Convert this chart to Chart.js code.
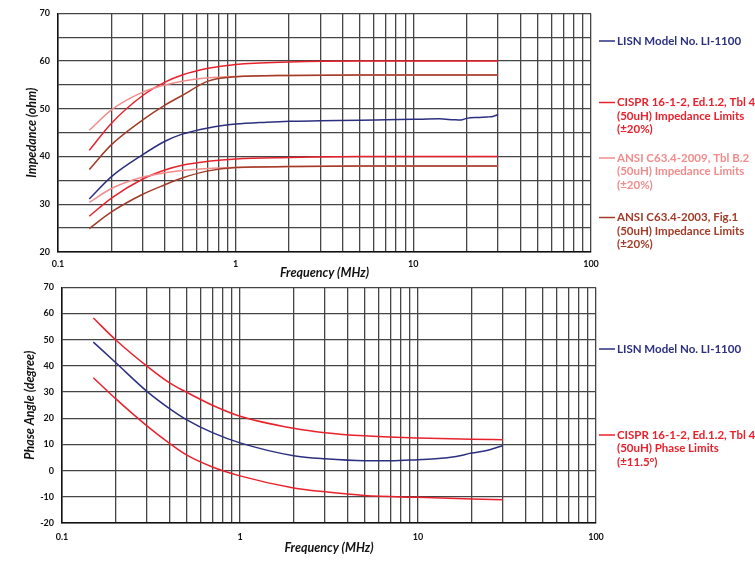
<!DOCTYPE html>
<html>
<head>
<meta charset="utf-8">
<script src="https://cdn.jsdelivr.net/npm/chart.js@4.4.0/dist/chart.umd.min.js"></script>
<style>
  body { margin: 0; background: #fff; }
  #wrap { position: relative; width: 755px; height: 562px; }
  #wrap canvas { position: absolute; left: 0; }
</style>
</head>
<body>
<div id="wrap">
  <canvas id="impedance" width="755" height="282" style="top:0px"></canvas>
  <canvas id="phase" width="755" height="288" style="top:274px"></canvas>
</div>
<script>
// x grid (log decades) and which of them get a label
const freqGrid = [0.1, 0.2, 0.3, 0.4, 0.5, 0.6, 0.7, 0.8, 0.9,
                  1, 2, 3, 4, 5, 6, 7, 8, 9,
                  10, 20, 30, 40, 50, 60, 70, 80, 90, 100];
const freqLabels = [0.1, 1, 10, 100];

// --- impedance (top) ---
const freqLimits = [0.15, 0.2, 0.3, 0.4, 0.5, 0.7, 1, 2, 5, 10, 20, 30];
const cisprUpper  = [41.3, 47.0, 52.8, 55.6, 57.1, 58.5, 59.3, 59.8, 60.0, 60.0, 60.0, 60.0];
const cisprLower  = [27.5, 31.3, 35.3, 37.2, 38.2, 39.0, 39.5, 39.8, 40.0, 40.0, 40.0, 40.0];
const ansi09Upper = [45.5, 49.8, 53.5, 55.0, 55.8, 56.5, 56.8, 57.0, 57.1, 57.1, 57.1, 57.1];
const ansi09Lower = [30.4, 33.3, 35.7, 36.6, 37.1, 37.5, 37.7, 37.9, 38.0, 38.0, 38.0, 38.0];
const ansi03Upper = [37.3, 42.5, 47.7, 50.8, 52.8, 55.8, 56.7, 57.0, 57.1, 57.1, 57.1, 57.1];
const ansi03Lower = [24.9, 28.4, 32.1, 34.1, 35.5, 37.0, 37.7, 37.9, 38.0, 38.0, 38.0, 38.0];

const freqLisn = [0.15, 0.2, 0.3, 0.4, 0.5, 0.7, 1, 1.5, 2, 3, 5, 7, 10, 14, 17, 18.5, 20, 23, 26, 28, 30];
const lisnZ    = [31.1, 35.8, 40.4, 43.2, 44.7, 46.0, 46.8, 47.2, 47.4, 47.5, 47.6, 47.7, 47.8, 47.9, 47.7, 47.65, 48.0, 48.2, 48.3, 48.4, 48.8];

// --- phase (bottom) ---
const freqPhaseLim = [0.15, 0.2, 0.3, 0.4, 0.5, 0.7, 1, 2, 3, 5, 10, 20, 30];
const phaseUpper   = [58.3, 50.0, 39.9, 33.6, 30.0, 25.0, 20.8, 16.2, 14.5, 13.3, 12.5, 12.0, 11.8];
const phaseLower   = [35.5, 27.5, 17.1, 10.5, 6.0, 1.4, -2.0, -6.6, -8.1, -9.5, -10.2, -10.8, -11.1];
const freqPhaseLisn = [0.15, 0.2, 0.3, 0.4, 0.5, 0.7, 1, 2, 3, 5, 7, 10, 13, 16, 20, 25, 30];
const lisnPhase     = [49.1, 41.3, 30.3, 23.8, 19.5, 14.5, 10.6, 5.7, 4.5, 3.8, 3.8, 4.2, 4.6, 5.3, 6.7, 7.9, 9.6];

// legend labels
const lisnLabel   = ['LISN Model No. LI-1100'];
const cisprZLabel = ['CISPR 16-1-2, Ed.1.2, Tbl 4', '(50uH) Impedance Limits', '(\u00b120%)'];
const ansi09Label = ['ANSI C63.4-2009, Tbl B.2', '(50uH) Impedance Limits', '(\u00b120%)'];
const ansi03Label = ['ANSI C63.4-2003, Fig.1', '(50uH) Impedance Limits', '(\u00b120%)'];
const cisprPLabel = ['CISPR 16-1-2, Ed.1.2, Tbl 4', '(50uH) Phase Limits', '(\u00b111.5\u00b0)'];

const NAVY = '#2c2f80';
const RED = '#e8222c';
const PINK = '#f28c8c';
const BROWN = '#a03c28';

function pts(xs, ys) { return xs.map((x, i) => ({ x: x, y: ys[i] })); }

function line(data, color) {
  return { data: data, borderColor: color, borderWidth: 1.5, pointRadius: 0,
           cubicInterpolationMode: 'monotone', fill: false };
}

const sideLegend = {
  id: 'sideLegend',
  afterDraw(chart, args, opts) {
    const ctx = chart.ctx;
    ctx.save();
    ctx.font = 'bold 11.5px Lato';
    ctx.textBaseline = 'middle';
    opts.items.forEach(it => {
      ctx.strokeStyle = it.color;
      ctx.lineWidth = 1.5;
      ctx.beginPath();
      ctx.moveTo(opts.x, it.y);
      ctx.lineTo(opts.x + 16, it.y);
      ctx.stroke();
      ctx.fillStyle = it.color;
      it.lines.forEach((t, i) => ctx.fillText(t, opts.x + 18, it.y + i * 13.5));
    });
    ctx.restore();
  }
};

const tickFont = { family: 'Lato', size: 9, weight: 'bold' };
const titleFont = { family: 'Lato', size: 12.5, weight: 'bold', style: 'italic' };
const gridStyle = { color: '#454545', lineWidth: 1.3, drawTicks: false };

function options(p) {
  return {
    responsive: false,
    animation: false,
    layout: { padding: p.padding },
    plugins: {
      legend: { display: false },
      tooltip: { enabled: false },
      sideLegend: { x: 599, items: p.legend }
    },
    scales: {
      x: {
        type: 'logarithmic', min: 0.1, max: 100,
        afterBuildTicks: s => { s.ticks = freqGrid.map(v => ({ value: v })); },
        afterFit: s => { s.height = p.xHeight; },
        grid: gridStyle,
        border: { color: '#111', width: 1.5 },
        ticks: { autoSkip: false, maxRotation: 0, padding: p.xTickPad, font: tickFont, color: '#111',
                 callback: v => freqLabels.includes(v) ? String(v) : '' },
        title: { display: true, text: 'Frequency (MHz)', font: titleFont, color: '#111',
                 padding: { top: 0, bottom: p.xTitlePad } }
      },
      y: {
        min: p.yMin, max: p.yMax,
        afterFit: s => { s.width = p.yWidth; },
        grid: gridStyle,
        border: { color: '#111', width: 1.5 },
        ticks: { stepSize: p.yStep, padding: 8, font: tickFont, color: '#111',
                 callback: v => v % 10 === 0 ? String(v) : '' },
        title: { display: true, text: p.yTitle, font: titleFont, color: '#111',
                 padding: { top: 0, bottom: 0 } }
      }
    }
  };
}

new Chart(document.getElementById('impedance'), {
  type: 'line',
  data: {
    datasets: [
      line(pts(freqLimits, ansi03Upper), BROWN),
      line(pts(freqLimits, ansi03Lower), BROWN),
      line(pts(freqLimits, ansi09Upper), PINK),
      line(pts(freqLimits, ansi09Lower), PINK),
      line(pts(freqLimits, cisprUpper), RED),
      line(pts(freqLimits, cisprLower), RED),
      line(pts(freqLisn, lisnZ), NAVY)
    ]
  },
  options: options({
    padding: { left: 24, right: 164, top: 10, bottom: 0 },
    xHeight: 30, xTickPad: 7, xTitlePad: 2, yWidth: 34,
    yMin: 20, yMax: 70, yStep: 5, yTitle: 'Impedance (ohm)',
    legend: [
      { lines: lisnLabel, color: NAVY, y: 41 },
      { lines: cisprZLabel, color: RED, y: 102.5 },
      { lines: ansi09Label, color: PINK, y: 158 },
      { lines: ansi03Label, color: BROWN, y: 217.5 }
    ]
  }),
  plugins: [sideLegend]
});

new Chart(document.getElementById('phase'), {
  type: 'line',
  data: {
    datasets: [
      line(pts(freqPhaseLim, phaseUpper), RED),
      line(pts(freqPhaseLim, phaseLower), RED),
      line(pts(freqPhaseLisn, lisnPhase), NAVY)
    ]
  },
  options: options({
    padding: { left: 22, right: 159, top: 10, bottom: 0 },
    xHeight: 39, xTickPad: 9, xTitlePad: 7, yWidth: 40,
    yMin: -20, yMax: 70, yStep: 10, yTitle: 'Phase Angle (degree)',
    legend: [
      { lines: lisnLabel, color: NAVY, y: 75 },
      { lines: cisprPLabel, color: RED, y: 161 }
    ]
  }),
  plugins: [sideLegend]
});
</script>
</body>
</html>
